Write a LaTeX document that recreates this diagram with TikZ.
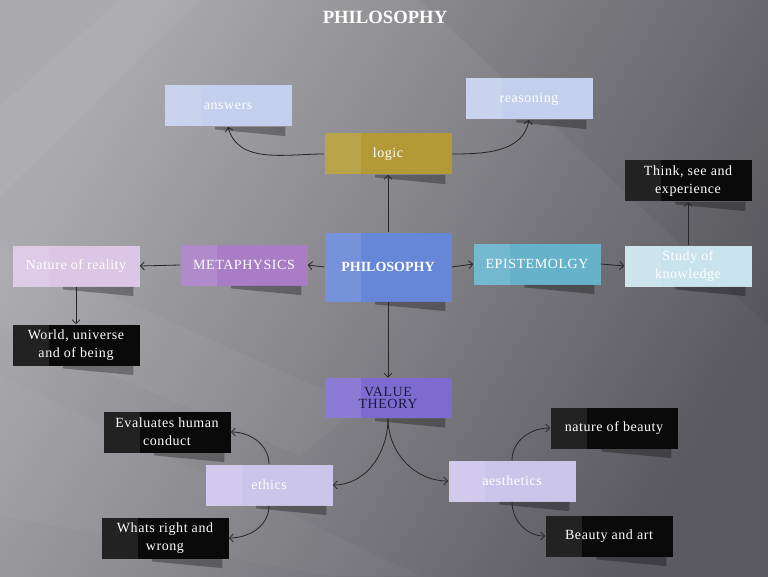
\documentclass[tikz,border=0pt]{standalone}
\usepackage{fontspec}
\setmainfont{Liberation Serif}
\newfontfamily\boxfont{Liberation Serif}[LetterSpace=4]
\usetikzlibrary{calc,arrows.meta}
\definecolor{bgL}{HTML}{ABABAF}
\definecolor{bgD}{HTML}{5A5A60}
\definecolor{cAns}{HTML}{C3CFEC}
\definecolor{cLogic}{HTML}{B39A36}
\definecolor{cBlk}{HTML}{0A0A0A}
\definecolor{cNat}{HTML}{DBC7E5}
\definecolor{cMet}{HTML}{A87DC5}
\definecolor{cPhi}{HTML}{6686D8}
\definecolor{cEpi}{HTML}{66B2CB}
\definecolor{cStu}{HTML}{C8E3EC}
\definecolor{cVal}{HTML}{7E6BCF}
\definecolor{cEth}{HTML}{CCC5EA}
\definecolor{cNavy}{HTML}{1A1A3C}
\begin{document}
\begin{tikzpicture}[x=0.75pt,y=0.75pt,
  box/.style={minimum width=95.25pt,minimum height=30.75pt,inner sep=1pt,
    align=center,font=\boxfont\fontsize{10.5}{13.5}\selectfont,text=white,
    path picture={\fill[white,opacity=0.1] (path picture bounding box.south west) rectangle ($(path picture bounding box.north west)!0.29!(path picture bounding box.north east)$);}},
  conn/.style={draw=black!85,line width=0.6pt,-{Straight Barb[length=3pt,width=6pt]}},
  shad/.style={fill=black,opacity=0.3}]
% background
\shade[top color=bgL,bottom color=bgD,shading angle=60] (0,0) rectangle (768,576);
\fill[white,opacity=0.04] (0,470) -- (120,576) -- (200,576) -- (0,380) -- cycle;
\fill[white,opacity=0.04] (0,330) -- (0,250) -- (300,120) -- (360,170) -- cycle;
\fill[white,opacity=0.03] (0,200) -- (0,60) -- (330,0) -- (420,0) -- cycle;
\fill[black,opacity=0.04] (420,576) -- (768,576) -- (768,250) -- cycle;
\useasboundingbox (0,0) rectangle (768,576);
% title
\node[font=\fontsize{14}{16}\selectfont\bfseries,text=white] (title) at (385,559) {PHILOSOPHY};
% nodes
\node[box,fill=cAns] (ans) at (228,470) {answers};
\node[box,fill=cAns] (rea) at (529,477) {reasoning};
\node[box,fill=cLogic] (log) at (388,422) {logic};
\node[box,fill=cBlk] (thk) at (688,395) {Think, see and\\experience};
\node[box,fill=cNat] (nat) at (76,310) {Nature of reality};
\node[box,fill=cMet] (met) at (244,311) {METAPHYSICS};
\node[box,fill=cPhi,minimum height=51.75pt,font=\fontsize{10.5}{12}\selectfont\bfseries] (phi) at (388,309) {PHILOSOPHY};
\node[box,fill=cEpi] (epi) at (537,312) {EPISTEMOLGY};
\node[box,fill=cStu] (stu) at (688,310) {Study of\\knowledge};
\node[box,fill=cBlk] (wor) at (76,231) {World, universe\\and of being};
\node[box,fill=cVal,text=cNavy,minimum height=30pt,font=\boxfont\fontsize{10.5}{9}\selectfont] (val) at (388,178) {VALUE\\THEORY};
\node[box,fill=cBlk] (eva) at (167,144) {Evaluates human\\conduct};
\node[box,fill=cEth] (eth) at (269,91) {ethics};
\node[box,fill=cBlk] (nob) at (614,148) {nature of beauty};
\node[box,fill=cEth] (aes) at (512,95) {aesthetics};
\node[box,fill=cBlk] (wrw) at (165,38) {Whats right and\\wrong};
\node[box,fill=cBlk] (baa) at (609,40) {Beauty and art};
% shadows
\foreach \n in {ans,rea,log,thk,nat,met,phi,epi,stu,wor,val,eva,eth,nob,aes,wrw,baa}{
  \fill[shad] ($(\n.south west)!0.40!(\n.south east)$) -- ($(\n.south west)!0.95!(\n.south east)$)
    -- ($(\n.south west)!0.95!(\n.south east)+(0,-7pt)$) -- ($(\n.south west)!0.40!(\n.south east)+(0,-2pt)$) -- cycle;
}
% connectors
\draw[conn] (phi.north) -- (log.south);
\draw[conn] (log.west) to[out=180,in=-75] (ans.south);
\draw[conn] (log.east) to[out=0,in=-100] (rea.south);
\draw[conn] (phi.west) -- (met.east);
\draw[conn] (met.west) -- (nat.east);
\draw[conn] (nat.south) -- (wor.north);
\draw[conn] (phi.east) -- (epi.west);
\draw[conn] (epi.east) -- (stu.west);
\draw[conn] (stu.north) -- (thk.south);
\draw[conn] (phi.south) -- (val.north);
\draw[conn] (val.south) to[out=-90,in=0] (eth.east);
\draw[conn] (val.south) to[out=-90,in=180] (aes.west);
\draw[conn] (eth.north) to[out=90,in=0] (eva.east);
\draw[conn] (eth.south) to[out=-90,in=0] (wrw.east);
\draw[conn] (aes.north) to[out=90,in=180] (nob.west);
\draw[conn] (aes.south) to[out=-90,in=180] (baa.west);
\end{tikzpicture}
\end{document}
